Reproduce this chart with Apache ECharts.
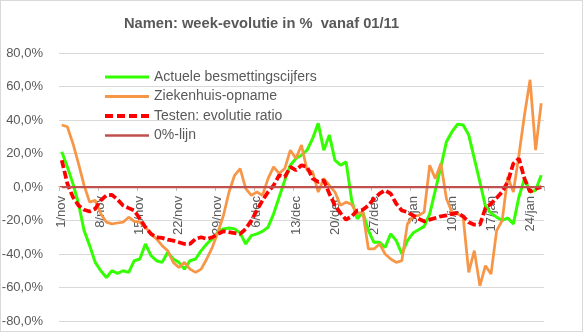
<!DOCTYPE html>
<html><head><meta charset="utf-8">
<script src="https://cdn.jsdelivr.net/npm/echarts@6/dist/echarts.min.js"></script>
<style>html,body{margin:0;padding:0;background:#fff}#c{width:583px;height:332px;box-sizing:border-box;border:1px solid #d9d9d9}</style>
</head><body><div id="c"></div>
<script>
const months = [['nov', 30], ['dec', 31], ['jan', 26]];
const categories = [];
months.forEach(([m, n]) => { for (let d = 1; d <= n; d++) categories.push(d + '/' + m); });

const besmettingen = [21,12,2,-10,-26,-35,-45,-50,-54,-50,-51.5,-50,-51,-44,-43,-34,-41,-44,-45,-39,
  -43,-45,-49,-44,-43,-38,-34,-31,-27,-25,-24.5,-25,-27.5,-34,-29,-28,-26.5,-24,-16,-6,
  4,13,17,19,22,29,38,22,31,16,13,15,-8,-19,-15,-26,-33,-33,-36,-28,
  -32,-40,-32,-27.5,-25.5,-23.5,-16,-2,12,27,33,37.5,37,31,17,3,-11.6,-15.6,-18,-20,
  -18.5,-22,-6,5,-3,-2,7];
const ziekenhuis = [37,36,26,14,1,-9,-8,-16,-21,-22,-21.5,-21,-18,-20.5,-21,-24,-28,-31,-35,-38,
  -45,-48,-45,-49,-51,-49,-43,-36,-27,-17,-3,7,11,-1,-5,-3,-5,5,12,8,
  11,22,17,25,10,9,-3,5,1,-3,-11,-9,-10.5,-16,-15,-37,-37,-34,-40,-43,
  -45,-44,-22,-17.5,-17,-15,13,5,14,-7,-15,-16,-18,-51,-38,-59,-47,-52,-26,-20,
  6,-3,19,43,64,22,50];
const testen = [16,2,-6,-11,-13.6,-14.6,-13,-8,-5,-4.7,-7.5,-11,-12.6,-14,-19,-24,-28,-30,-30.4,-31.4,
  -32,-33,-34,-34,-31,-30,-31,-30,-28,-26.4,-27,-27.5,-28,-25,-20,-14,-8,-3,1,7,
  6,12,10,13,12,5,3,4,-4,-11,-15.6,-19.5,-17.5,-14,-13.6,-11,-7,-4,-2,-4,
  -10,-14,-15,-17,-19,-20.5,-19.5,-18.5,-17.5,-17,-16,-15.6,-17.5,-21,-22.5,-22.5,-12.6,-10,-6.5,-2.8,
  3,14,17,5,-2.8,-1,0];
const nulLijn = categories.map(() => 0);

const txt = '#595959';
const font = 'Liberation Sans';
const solidIcon = h => 'path://M0,0H44V' + h + 'H0Z';
const dashIcon = 'path://M0,0h8v4h-8z M12,0h8v4h-8z M24,0h8v4h-8z M36,0h8v4h-8z';
const chart = echarts.init(document.getElementById('c'));
chart.setOption({
  animation: false,
  title: { text: 'Namen: week-evolutie in %  vanaf 01/11', left: 123, top: 15, padding: 0,
    textStyle: { fontFamily: font, fontSize: 14.7, fontWeight: 'bold', color: txt } },
  legend: { orient: 'vertical', left: 104, top: 69, padding: 0, itemWidth: 44, itemHeight: 14, itemGap: 5.5,
    symbolKeepAspect: true,
    textStyle: { fontFamily: font, fontSize: 14, lineHeight: 14, color: txt },
    data: [
      { name: 'Actuele besmettingscijfers', icon: solidIcon(3) },
      { name: 'Ziekenhuis-opname', icon: solidIcon(3) },
      { name: 'Testen: evolutie ratio', icon: dashIcon },
      { name: '0%-lijn', icon: solidIcon(2.5) }
    ] },
  grid: { left: 58, right: 38, top: 52, bottom: 10, outerBoundsMode: 'none', containLabel: false },
  xAxis: { type: 'category', data: categories, boundaryGap: true, position: 'bottom', offset: -135,
    axisLine: { show: true, onZero: false, lineStyle: { color: '#c0504d', width: 1 } },
    axisTick: { show: true, interval: 6, length: 5, lineStyle: { color: '#bfbfbf' } },
    axisLabel: { show: true, interval: 6, rotate: 90, margin: 10, fontFamily: font, fontSize: 13, color: txt } },
  yAxis: { type: 'value', min: -80, max: 80, interval: 20,
    axisLine: { show: false }, axisTick: { show: false },
    splitLine: { lineStyle: { color: '#d9d9d9' } },
    axisLabel: { fontFamily: font, fontSize: 13, color: txt, margin: 16,
      formatter: v => v.toFixed(1).replace('.', ',') + '%' } },
  series: [
    { name: 'Actuele besmettingscijfers', type: 'line', data: besmettingen, symbol: 'none',
      itemStyle: { color: '#33ff00' }, lineStyle: { color: '#33ff00', width: 3 } },
    { name: 'Ziekenhuis-opname', type: 'line', data: ziekenhuis, symbol: 'none',
      itemStyle: { color: '#f79646' }, lineStyle: { color: '#f79646', width: 2.75 } },
    { name: 'Testen: evolutie ratio', type: 'line', data: testen, symbol: 'none',
      itemStyle: { color: '#ff0000' }, lineStyle: { color: '#ff0000', width: 3.75, type: [8, 3] } },
    { name: '0%-lijn', type: 'line', data: nulLijn, symbol: 'none',
      itemStyle: { color: '#c0504d' }, lineStyle: { color: '#c0504d', width: 2.25 } }
  ]
});
</script></body></html>
